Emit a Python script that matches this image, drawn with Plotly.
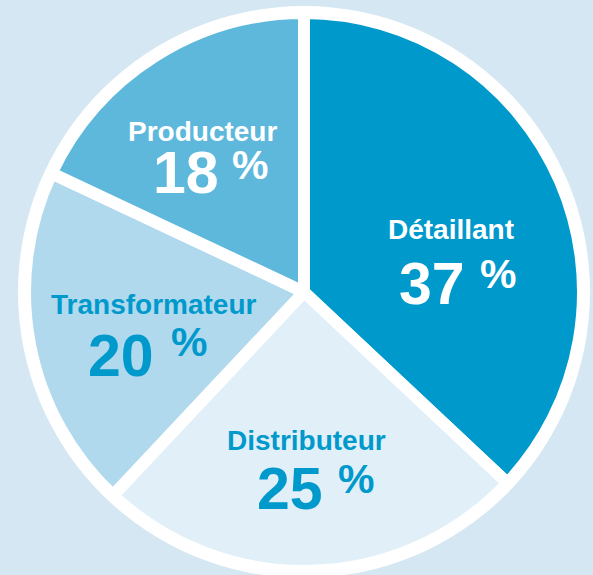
import plotly.graph_objects as go

# ---- data ----
labels = ["Détaillant", "Distributeur", "Transformateur", "Producteur"]
values = [37, 25, 20, 18]
pct_text = ["37", "25", "20", "18"]

# ---- styles ----
slice_colors = ["#0099cc", "#e1f0f8", "#b1d9ee", "#5db8dc"]
text_colors = ["#ffffff", "#0099cc", "#0099cc", "#ffffff"]
bg = "#d4e7f2"
W, H = 593, 575

# annotation positions (pixels): label centre, number centre, percent-sign centre
label_pos = [(451, 229), (306, 440), (153, 304), (202, 131)]
num_pos = [(432, 284), (290, 489), (121, 356), (186, 173)]
pct_pos = [(498, 274), (356, 479), (189, 342), (250, 165)]

cx, cy, r = 304, 292, 279
r_back = 286

fig = go.Figure()
fig.add_trace(go.Pie(
    labels=labels,
    values=values,
    sort=False,
    direction="clockwise",
    rotation=0,
    marker=dict(colors=slice_colors, line=dict(color="#ffffff", width=12)),
    textinfo="none",
    hoverinfo="skip",
    showlegend=False,
    domain=dict(x=[(cx - r) / W, (cx + r) / W],
                y=[(H - cy - r) / H, (H - cy + r) / H]),
))

font_family = "Liberation Sans, Arial, Helvetica, sans-serif"

def px(x, y):
    return x / W, 1 - y / H

annotations = []
for i, lab in enumerate(labels):
    x, y = px(*label_pos[i])
    annotations.append(dict(x=x, y=y, xref="paper", yref="paper", text=lab,
                            showarrow=False, xanchor="center", yanchor="middle",
                            font=dict(family=font_family, size=28, color=text_colors[i], weight="bold")))
    x, y = px(*num_pos[i])
    annotations.append(dict(x=x, y=y, xref="paper", yref="paper", text=pct_text[i],
                            showarrow=False, xanchor="center", yanchor="middle",
                            font=dict(family=font_family, size=59, color=text_colors[i], weight="bold")))
    x, y = px(*pct_pos[i])
    annotations.append(dict(x=x, y=y, xref="paper", yref="paper", text="%",
                            showarrow=False, xanchor="center", yanchor="middle",
                            font=dict(family=font_family, size=41, color=text_colors[i], weight="bold")))

x0, y1 = px(cx - r_back, cy - r_back)
x1, y0 = px(cx + r_back, cy + r_back)

fig.update_layout(
    width=W, height=H,
    margin=dict(l=0, r=0, t=0, b=0),
    paper_bgcolor=bg,
    plot_bgcolor=bg,
    annotations=annotations,
    shapes=[dict(type="circle", xref="paper", yref="paper",
                 x0=x0, x1=x1, y0=y0, y1=y1,
                 fillcolor="#ffffff", line=dict(width=0), layer="below")],
)

fig.write_html("out.html",
               config={"displayModeBar": False},
               post_script="document.body.style.margin='0';document.body.style.overflow='hidden';document.body.style.background='" + bg + "';")
